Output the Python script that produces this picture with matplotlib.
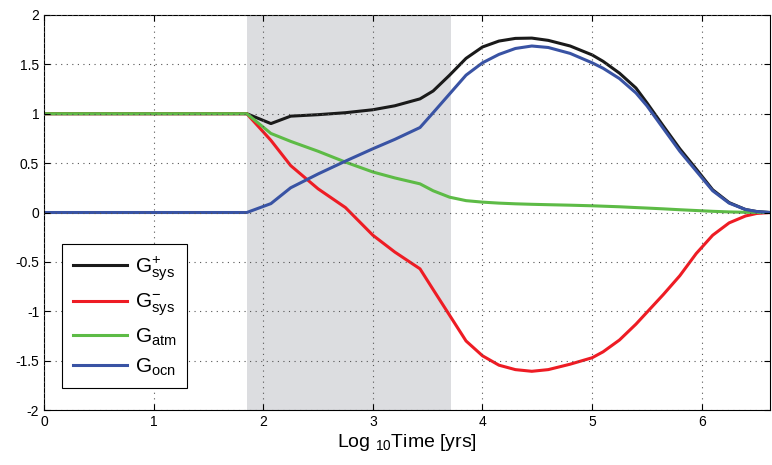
import matplotlib
matplotlib.use('Agg')
import matplotlib.pyplot as plt

plt.rcParams['font.family'] = ['Liberation Sans', 'DejaVu Sans']
plt.rcParams['mathtext.fontset'] = 'custom'
plt.rcParams['mathtext.rm'] = 'Liberation Sans'
plt.rcParams['mathtext.it'] = 'Liberation Sans'
plt.rcParams['axes.unicode_minus'] = False

# log10 time points
logt = [0, 1.85, 2.07, 2.25, 2.5, 2.75, 3.0, 3.2, 3.43, 3.55, 3.7, 3.85, 4.0,
        4.15, 4.3, 4.45, 4.6, 4.8, 5.0, 5.1, 5.25, 5.4, 5.5, 5.65, 5.8, 5.95, 6.1,
        6.25, 6.4, 6.5, 6.62]

g_sys_plus = [1, 1, 0.90, 0.975, 0.99, 1.01, 1.04, 1.08, 1.15, 1.23, 1.39, 1.56, 1.675,
              1.735, 1.762, 1.765, 1.742, 1.685, 1.595, 1.53, 1.41, 1.26, 1.11, 0.875, 0.645, 0.44, 0.23,
              0.10, 0.03, 0.01, 0.0]
g_sys_minus = [1, 1, 0.73, 0.475, 0.24, 0.05, -0.23, -0.40, -0.57, -0.78, -1.04, -1.30, -1.45,
               -1.545, -1.59, -1.607, -1.59, -1.535, -1.47, -1.41, -1.29, -1.13, -1.01, -0.83, -0.64, -0.415, -0.23,
               -0.105, -0.035, -0.01, 0.0]
g_atm = [1, 1, 0.80, 0.72, 0.62, 0.51, 0.41, 0.35, 0.29, 0.22, 0.155, 0.12, 0.105,
         0.095, 0.088, 0.083, 0.079, 0.074, 0.068, 0.064, 0.058, 0.05, 0.045, 0.037, 0.028, 0.02, 0.012,
         0.006, 0.002, 0.001, 0.0]
g_ocn = [0, 0, 0.09, 0.25, 0.39, 0.52, 0.645, 0.74, 0.86, 1.01, 1.20, 1.39, 1.515,
         1.60, 1.66, 1.685, 1.67, 1.61, 1.515, 1.46, 1.355, 1.21, 1.08, 0.85, 0.62, 0.42, 0.22,
         0.095, 0.03, 0.01, 0.0]

shade = (1.855, 3.71)

fig = plt.figure(figsize=(7.72, 4.65), dpi=100)
ax = fig.add_axes([0.057, 0.118, 0.940, 0.850])

ax.axvspan(shade[0], shade[1], color='#dcdde0', zorder=0, lw=0)

lw = 2.2
ax.plot(logt, g_sys_plus, color='#1a1a1a', lw=lw, label=r'$\mathrm{G}^{+}_{\mathrm{sys}}$')
ax.plot(logt, g_sys_minus, color='#ee1c24', lw=lw, label=r'$\mathrm{G}^{-}_{\mathrm{sys}}$')
ax.plot(logt, g_atm, color='#5dbb46', lw=lw, label=r'$\mathrm{G}_{\mathrm{atm}}$')
ax.plot(logt, g_ocn, color='#3953a4', lw=lw, label=r'$\mathrm{G}_{\mathrm{ocn}}$')

ax.set_xlim(0, 6.62)
ax.set_ylim(-2, 2)
ax.set_xticks(range(0, 7))
ax.set_yticks([-2, -1.5, -1, -0.5, 0, 0.5, 1, 1.5, 2])
ax.set_yticklabels(['-2', '-1.5', '-1', '-0.5', '0', '0.5', '1', '1.5', '2'])
ax.tick_params(direction='in', labelsize=10, length=4, top=True, right=True)
ax.grid(True, linestyle=(0, (1, 4)), color='#555555', lw=0.8)
ax.set_axisbelow(False)
for s in ax.spines.values():
    s.set_linewidth(0.8)

ax.set_xlabel(r'Log $_{10}$Time [yrs]', fontsize=14, labelpad=2)

leg = ax.legend(loc='lower left', bbox_to_anchor=(0.025, 0.056), borderaxespad=0,
                fontsize=15, handlelength=2.6, handletextpad=0.4, labelspacing=0.4,
                borderpad=0.5, fancybox=False, framealpha=1, edgecolor='black')
leg.get_frame().set_linewidth(0.8)

fig.savefig('out.png', dpi=100)
